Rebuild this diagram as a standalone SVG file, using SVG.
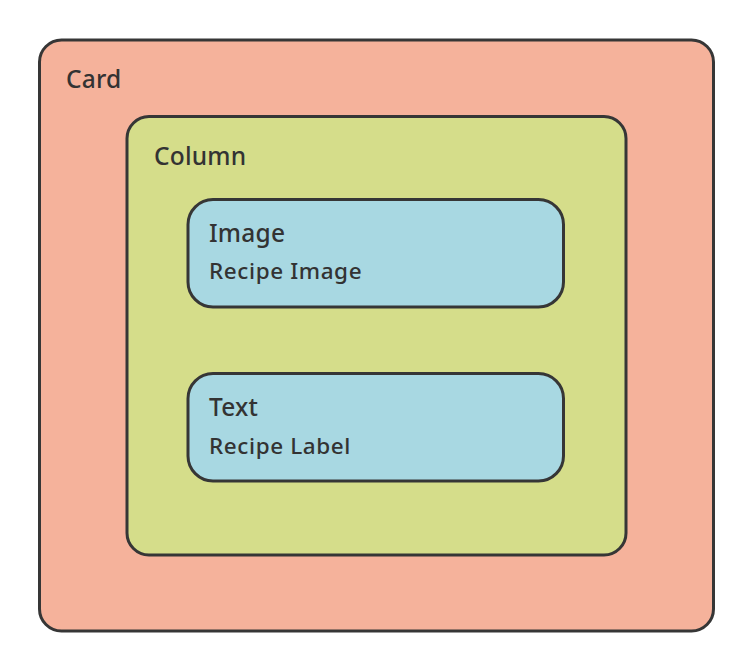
<svg xmlns="http://www.w3.org/2000/svg" width="751" height="656" viewBox="0 0 751 656">
<style>
.box{stroke:#363636;stroke-width:3}
.t{font-family:"Noto Sans","Open Sans",sans-serif;fill:#333;font-weight:500}
.h{font-size:24.5px;letter-spacing:0.2px}
.s{font-size:22.5px;letter-spacing:0.6px}
</style>
<rect width="751" height="656" fill="#fff"/>
<g id="card">
<rect class="box" x="39.5" y="40" width="674" height="591" rx="22" fill="#F5B29B"/>
<text class="t h" x="66" y="88">Card</text>
</g>
<g id="column">
<rect class="box" x="127" y="116.5" width="499" height="438.5" rx="22" fill="#D5DD8A"/>
<text class="t h" x="154" y="165">Column</text>
</g>
<g id="image">
<rect class="box" x="188" y="199.5" width="375.5" height="107.5" rx="25" fill="#A8D8E2"/>
<text class="t h" x="209" y="242">Image</text>
<text class="t s" x="209" y="279">Recipe Image</text>
</g>
<g id="text">
<rect class="box" x="188" y="373.5" width="375.5" height="107.5" rx="25" fill="#A8D8E2"/>
<text class="t h" x="209" y="416">Text</text>
<text class="t s" x="209" y="454">Recipe Label</text>
</g>
<g id="connectors"/>
</svg>
